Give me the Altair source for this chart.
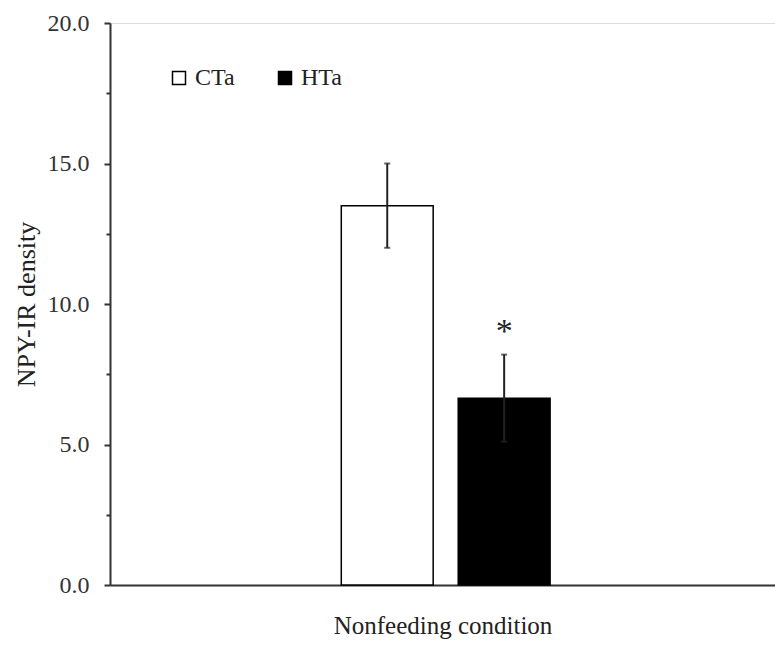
import altair as alt
import pandas as pd

condition = "Nonfeeding condition"
groups = ["CTa", "HTa"]
means = [13.5, 6.65]
sems = [1.5, 1.55]
sig_marks = ["", "*"]
sig_pos = [None, 9.0]

y_ticks = [0, 2.5, 5, 7.5, 10, 12.5, 15, 17.5, 20]

df = pd.DataFrame({
    "condition": [condition] * len(groups),
    "group": groups,
    "mean": means,
    "lo": [m - s for m, s in zip(means, sems)],
    "hi": [m + s for m, s in zip(means, sems)],
    "sig": sig_marks,
    "sig_y": sig_pos,
})

FONT = "Liberation Serif"
FS = 24

x_enc = alt.X(
    "condition:N",
    scale=alt.Scale(paddingInner=0.0845, paddingOuter=1, align=0.507),
    axis=alt.Axis(
        title="Nonfeeding condition",
        labels=False,
        ticks=False,
        domainColor="#333333",
        domainWidth=2,
        titleFont=FONT,
        titleFontSize=25,
        titleFontWeight="normal",
        titleColor="#222222",
        titlePadding=28,
    ),
)
xo_enc = alt.XOffset(
    "group:N", sort=groups, scale=alt.Scale(paddingInner=0.214, paddingOuter=0)
)

y_scale = alt.Scale(domain=[0, 20], nice=False)

bars = alt.Chart(df).mark_bar(stroke="black", strokeWidth=1.5).encode(
    x=x_enc,
    xOffset=xo_enc,
    y=alt.Y(
        "mean:Q",
        scale=y_scale,
        axis=alt.Axis(
            title="NPY-IR density",
            values=y_ticks,
            labelExpr="datum.value % 5 === 0 ? format(datum.value, '.1f') : ''",
            grid=False,
            domainColor="#333333",
            domainWidth=2,
            tickColor="#333333",
            tickWidth=2,
            tickSize={"condition": {"test": "datum.value % 5 === 0", "value": 6}, "value": 4},
            labelPadding=15,
            labelFont=FONT,
            labelFontSize=FS,
            labelColor="#333333",
            titleFont=FONT,
            titleFontSize=26,
            titleFontWeight="normal",
            titleColor="#222222",
            titlePadding=8,
        ),
    ),
    color=alt.Color(
        "group:N",
        sort=groups,
        scale=alt.Scale(domain=groups, range=["white", "black"]),
        legend=alt.Legend(
            title=None,
            orient="none",
            legendX=57,
            legendY=43,
            direction="horizontal",
            symbolType="square",
            symbolSize=169,
            symbolStrokeColor="black",
            symbolStrokeWidth=1.5,
            labelFont=FONT,
            labelFontSize=FS,
            labelColor="#222222",
            labelOffset=4,
            columnPadding=38,
            padding=0,
        ),
    ),
)

err = alt.Chart(df).mark_rule(color="#222222", strokeWidth=2).encode(
    x=alt.X("condition:N"),
    xOffset=xo_enc,
    y="lo:Q",
    y2="hi:Q",
)

cap_hi = alt.Chart(df).mark_tick(color="#222222", thickness=2, size=6).encode(
    x=alt.X("condition:N"),
    xOffset=xo_enc,
    y="hi:Q",
)
cap_lo = alt.Chart(df).mark_tick(color="#222222", thickness=2, size=6).encode(
    x=alt.X("condition:N"),
    xOffset=xo_enc,
    y="lo:Q",
)

stars = alt.Chart(df).transform_filter("datum.sig != ''").mark_text(
    font=FONT, fontSize=34, baseline="middle", align="center", color="#222222"
).encode(
    x=alt.X("condition:N"),
    xOffset=xo_enc,
    y="sig_y:Q",
    text="sig:N",
)

chart = alt.layer(bars, err, cap_hi, cap_lo, stars).properties(
    width=665,
    height=562,
    autosize=alt.AutoSizeParams(type="none"),
    padding={"left": 110, "top": 23, "right": 0, "bottom": 62},
).configure_view(stroke=None).configure(background="white")

chart.save("out.html", embed_options={"renderer": "svg", "actions": False})
